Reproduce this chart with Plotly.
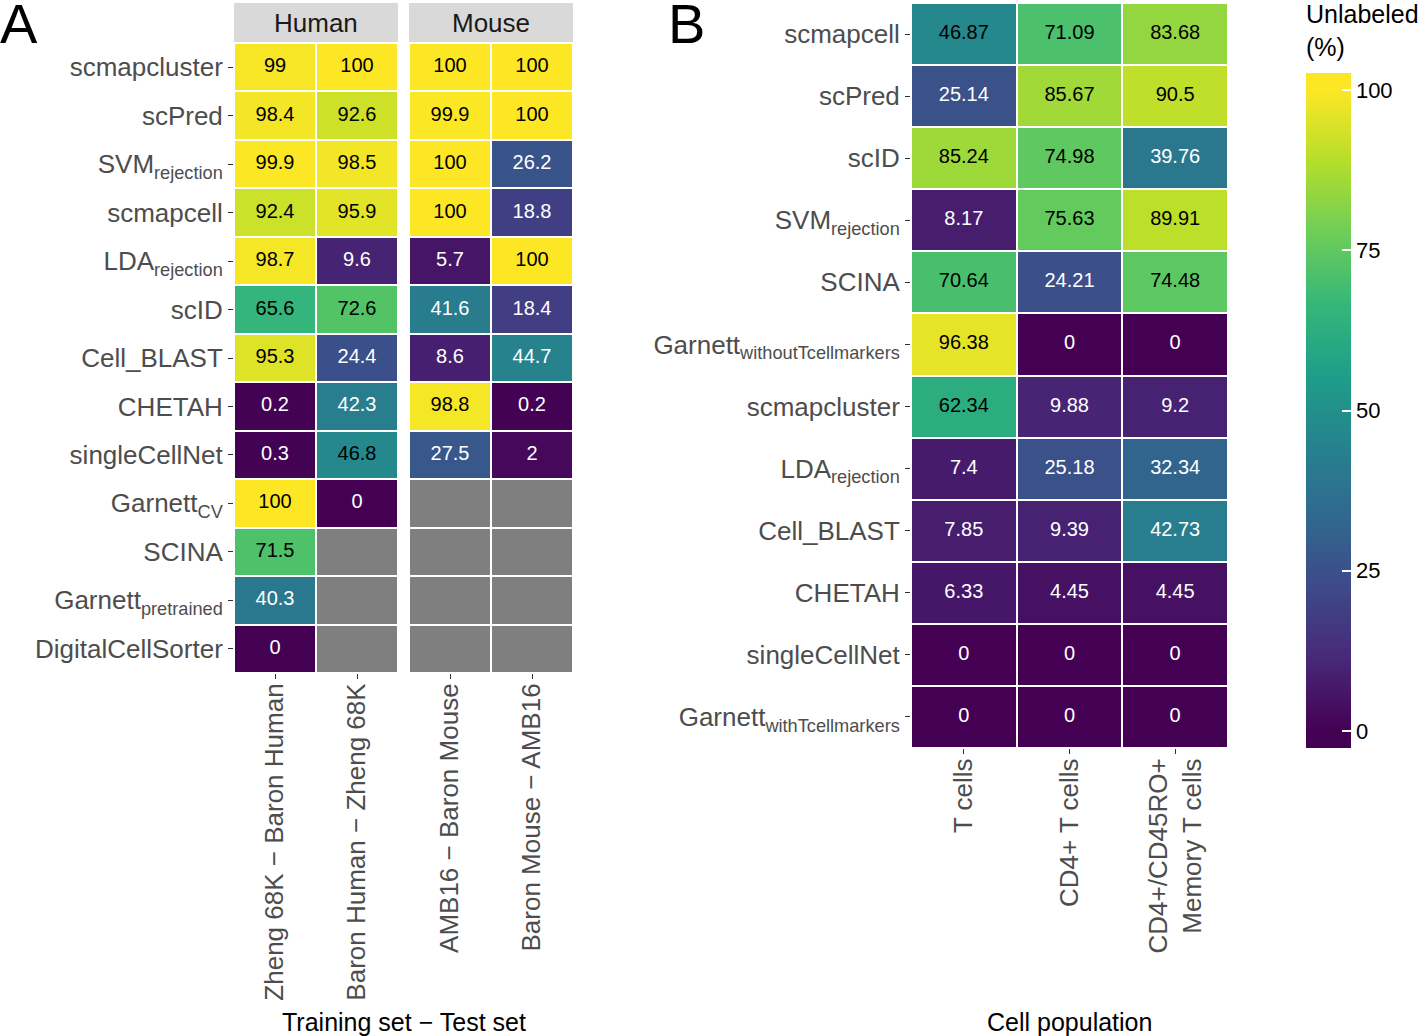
import plotly.graph_objects as go

# ---------------- DATA ----------------
methods_a = ["scmapcluster", "scPred", "SVMrejection", "scmapcell", "LDArejection", "scID",
             "Cell_BLAST", "CHETAH", "singleCellNet", "GarnettCV", "SCINA",
             "Garnettpretrained", "DigitalCellSorter"]
labels_a = ["scmapcluster", "scPred", "SVM<sub>rejection</sub>", "scmapcell", "LDA<sub>rejection</sub>",
            "scID", "Cell_BLAST", "CHETAH", "singleCellNet", "Garnett<sub>CV</sub>", "SCINA",
            "Garnett<sub>pretrained</sub>", "DigitalCellSorter"]
human_sets = ["Zheng 68K − Baron Human", "Baron Human − Zheng 68K"]
mouse_sets = ["AMB16 − Baron Mouse", "Baron Mouse − AMB16"]
zheng_baronhuman = [99, 98.4, 99.9, 92.4, 98.7, 65.6, 95.3, 0.2, 0.3, 100, 71.5, 40.3, 0]
baronhuman_zheng = [100, 92.6, 98.5, 95.9, 9.6, 72.6, 24.4, 42.3, 46.8, 0, None, None, None]
amb16_baronmouse = [100, 99.9, 100, 100, 5.7, 41.6, 8.6, 98.8, 27.5, None, None, None, None]
baronmouse_amb16 = [100, 100, 26.2, 18.8, 100, 18.4, 44.7, 0.2, 2, None, None, None, None]

methods_b = ["scmapcell", "scPred", "scID", "SVMrejection", "SCINA", "GarnettwithoutTcellmarkers",
             "scmapcluster", "LDArejection", "Cell_BLAST", "CHETAH", "singleCellNet",
             "GarnettwithTcellmarkers"]
labels_b = ["scmapcell", "scPred", "scID", "SVM<sub>rejection</sub>", "SCINA",
            "Garnett<sub>withoutTcellmarkers</sub>", "scmapcluster", "LDA<sub>rejection</sub>",
            "Cell_BLAST", "CHETAH", "singleCellNet", "Garnett<sub>withTcellmarkers</sub>"]
populations = ["T cells", "CD4+ T cells", "CD4+/CD45RO+<br>Memory T cells"]
t_cells = [46.87, 25.14, 85.24, 8.17, 70.64, 96.38, 62.34, 7.4, 7.85, 6.33, 0, 0]
cd4_t_cells = [71.09, 85.67, 74.98, 75.63, 24.21, 0, 9.88, 25.18, 9.39, 4.45, 0, 0]
cd4_cd45ro_memory = [83.68, 90.5, 39.76, 89.91, 74.48, 0, 9.2, 32.34, 42.73, 4.45, 0, 0]

colorbar_ticks = [0, 25, 50, 75, 100]

# ---------------- STYLE ----------------
W, H = 1419, 1036
FONT = "Liberation Sans, Arial, sans-serif"
TICK_COLOR = "#4D4D4D"
LO, HI = -2.65, 102.65

viridis = ['#440154', '#482878', '#3e4989', '#31688e', '#26828e',
           '#1f9e89', '#35b779', '#6ece58', '#b5de2b', '#fde725']
cscale = [[0, viridis[0]]]
for i, c in enumerate(viridis):
    p = i / (len(viridis) - 1)
    cscale.append([(0 - LO + 100 * p) / (HI - LO), c])
cscale.append([1, viridis[-1]])


def fx(p):
    return p / W


def fy(p):
    return 1 - p / H


def fmt(v):
    return f"{v:g}"


fig = go.Figure()


def add_panel(cols, xnames, rows, xa, ya):
    z = [[cols[j][i] for j in range(len(cols))] for i in range(len(rows))]
    zna = [[(1 if cols[j][i] is None else None) for j in range(len(cols))] for i in range(len(rows))]
    fig.add_trace(go.Heatmap(z=zna, x=xnames, y=rows, colorscale=[[0, "#7F7F7F"], [1, "#7F7F7F"]],
                             showscale=False, xgap=2, ygap=2, hoverinfo="skip",
                             xaxis=xa, yaxis=ya))
    fig.add_trace(go.Heatmap(z=z, x=xnames, y=rows, coloraxis="coloraxis",
                             xgap=2, ygap=2, xaxis=xa, yaxis=ya))
    for color, test in (("black", lambda v: v >= 45), ("white", lambda v: v < 45)):
        xs, ys, ts = [], [], []
        for j, col in enumerate(cols):
            for i, v in enumerate(col):
                if v is not None and test(v):
                    xs.append(xnames[j]); ys.append(rows[i]); ts.append(fmt(v))
        fig.add_trace(go.Scatter(x=xs, y=ys, text=ts, mode="text", showlegend=False,
                                 textfont=dict(color=color, size=20, family=FONT),
                                 hoverinfo="skip", xaxis=xa, yaxis=ya))


add_panel([zheng_baronhuman, baronhuman_zheng], human_sets, methods_a, "x", "y")
add_panel([amb16_baronmouse, baronmouse_amb16], mouse_sets, methods_a, "x2", "y2")
add_panel([t_cells, cd4_t_cells, cd4_cd45ro_memory], populations, methods_b, "x3", "y3")

tickfont = dict(size=26, color=TICK_COLOR, family=FONT)
xcommon = dict(type="category", showgrid=False, zeroline=False, showline=False,
               ticks="outside", ticklen=5, tickcolor="#333333", tickangle=-90,
               tickfont=tickfont, fixedrange=True, ticklabelstandoff=-6)
ycommon = dict(type="category", showgrid=False, zeroline=False, showline=False,
               ticks="outside", ticklen=5, tickcolor="#333333", tickfont=tickfont,
               fixedrange=True)

na = len(methods_a)
nb = len(methods_b)
fig.update_layout(
    width=W, height=H, margin=dict(l=0, r=0, t=0, b=0),
    paper_bgcolor="white", plot_bgcolor="white", showlegend=False,
    font=dict(family=FONT),
    xaxis=dict(domain=[fx(234), fx(398)], anchor="y", range=[-0.5, 1.5], **xcommon),
    yaxis=dict(domain=[fy(673), fy(43)], anchor="x", range=[na - 0.5, -0.5],
               tickvals=methods_a, ticktext=labels_a, **ycommon),
    xaxis2=dict(domain=[fx(409), fx(573)], anchor="y2", range=[-0.5, 1.5], **xcommon),
    yaxis2=dict(domain=[fy(673), fy(43)], anchor="x2", range=[na - 0.5, -0.5],
                showticklabels=False, type="category", showgrid=False, zeroline=False,
                ticks="", fixedrange=True),
    xaxis3=dict(domain=[fx(911), fx(1228)], anchor="y3", range=[-0.5, 2.5], **xcommon),
    yaxis3=dict(domain=[fy(748), fy(3)], anchor="x3", range=[nb - 0.5, -0.5],
                tickvals=methods_b, ticktext=labels_b, **ycommon),
    coloraxis=dict(
        cmin=LO, cmax=HI, colorscale=cscale,
        colorbar=dict(
            x=fx(1306), xanchor="left", xpad=0, ypad=0,
            y=fy(73), yanchor="top", len=675, lenmode="pixels",
            thickness=45, thicknessmode="pixels", outlinewidth=0,
            tickvals=colorbar_ticks, ticktext=[str(t) for t in colorbar_ticks],
            ticks="inside", ticklen=9, tickcolor="white", tickwidth=1.5,
            tickfont=dict(size=22, color="black", family=FONT),
        ),
    ),
)

# facet strips
for (x0, x1), name in (((234, 398), "Human"), ((409, 573), "Mouse")):
    fig.add_shape(type="rect", xref="paper", yref="paper", x0=fx(x0), x1=fx(x1),
                  y0=fy(42), y1=fy(3), fillcolor="#D9D9D9", line=dict(width=0), layer="below")
    fig.add_annotation(x=fx((x0 + x1) / 2), y=fy(22.5), xref="paper", yref="paper",
                       text=name, showarrow=False, xanchor="center", yanchor="middle",
                       font=dict(size=26, color="#1A1A1A", family=FONT))

# colorbar ticks on the left edge of the bar (white, inside)
for t in colorbar_ticks:
    ypx = 73 + (HI - t) / (HI - LO) * 675
    fig.add_shape(type="line", xref="paper", yref="paper", x0=fx(1306), x1=fx(1315),
                  y0=fy(ypx), y1=fy(ypx), line=dict(color="white", width=1.5))

# panel letters
fig.add_annotation(x=fx(-2), y=fy(-10), xref="paper", yref="paper", text="A", showarrow=False,
                   xanchor="left", yanchor="top", font=dict(size=56, color="black", family=FONT))
fig.add_annotation(x=fx(666), y=fy(-10), xref="paper", yref="paper", text="B", showarrow=False,
                   xanchor="left", yanchor="top", font=dict(size=56, color="black", family=FONT))

# axis titles
fig.add_annotation(x=fx(403.5), y=fy(1022), xref="paper", yref="paper",
                   text="Training set − Test set", showarrow=False,
                   xanchor="center", yanchor="middle", font=dict(size=25, color="black", family=FONT))
fig.add_annotation(x=fx(1069.5), y=fy(1022), xref="paper", yref="paper",
                   text="Cell population", showarrow=False,
                   xanchor="center", yanchor="middle", font=dict(size=25, color="black", family=FONT))

# colorbar title
fig.add_annotation(x=fx(1304), y=fy(-2), xref="paper", yref="paper",
                   text="Unlabeled<br>(%)", showarrow=False, align="left",
                   xanchor="left", yanchor="top", font=dict(size=25, color="black", family=FONT))

fig.write_html("out.html", config={"displayModeBar": False},
               post_script="document.body.style.margin='0';")
